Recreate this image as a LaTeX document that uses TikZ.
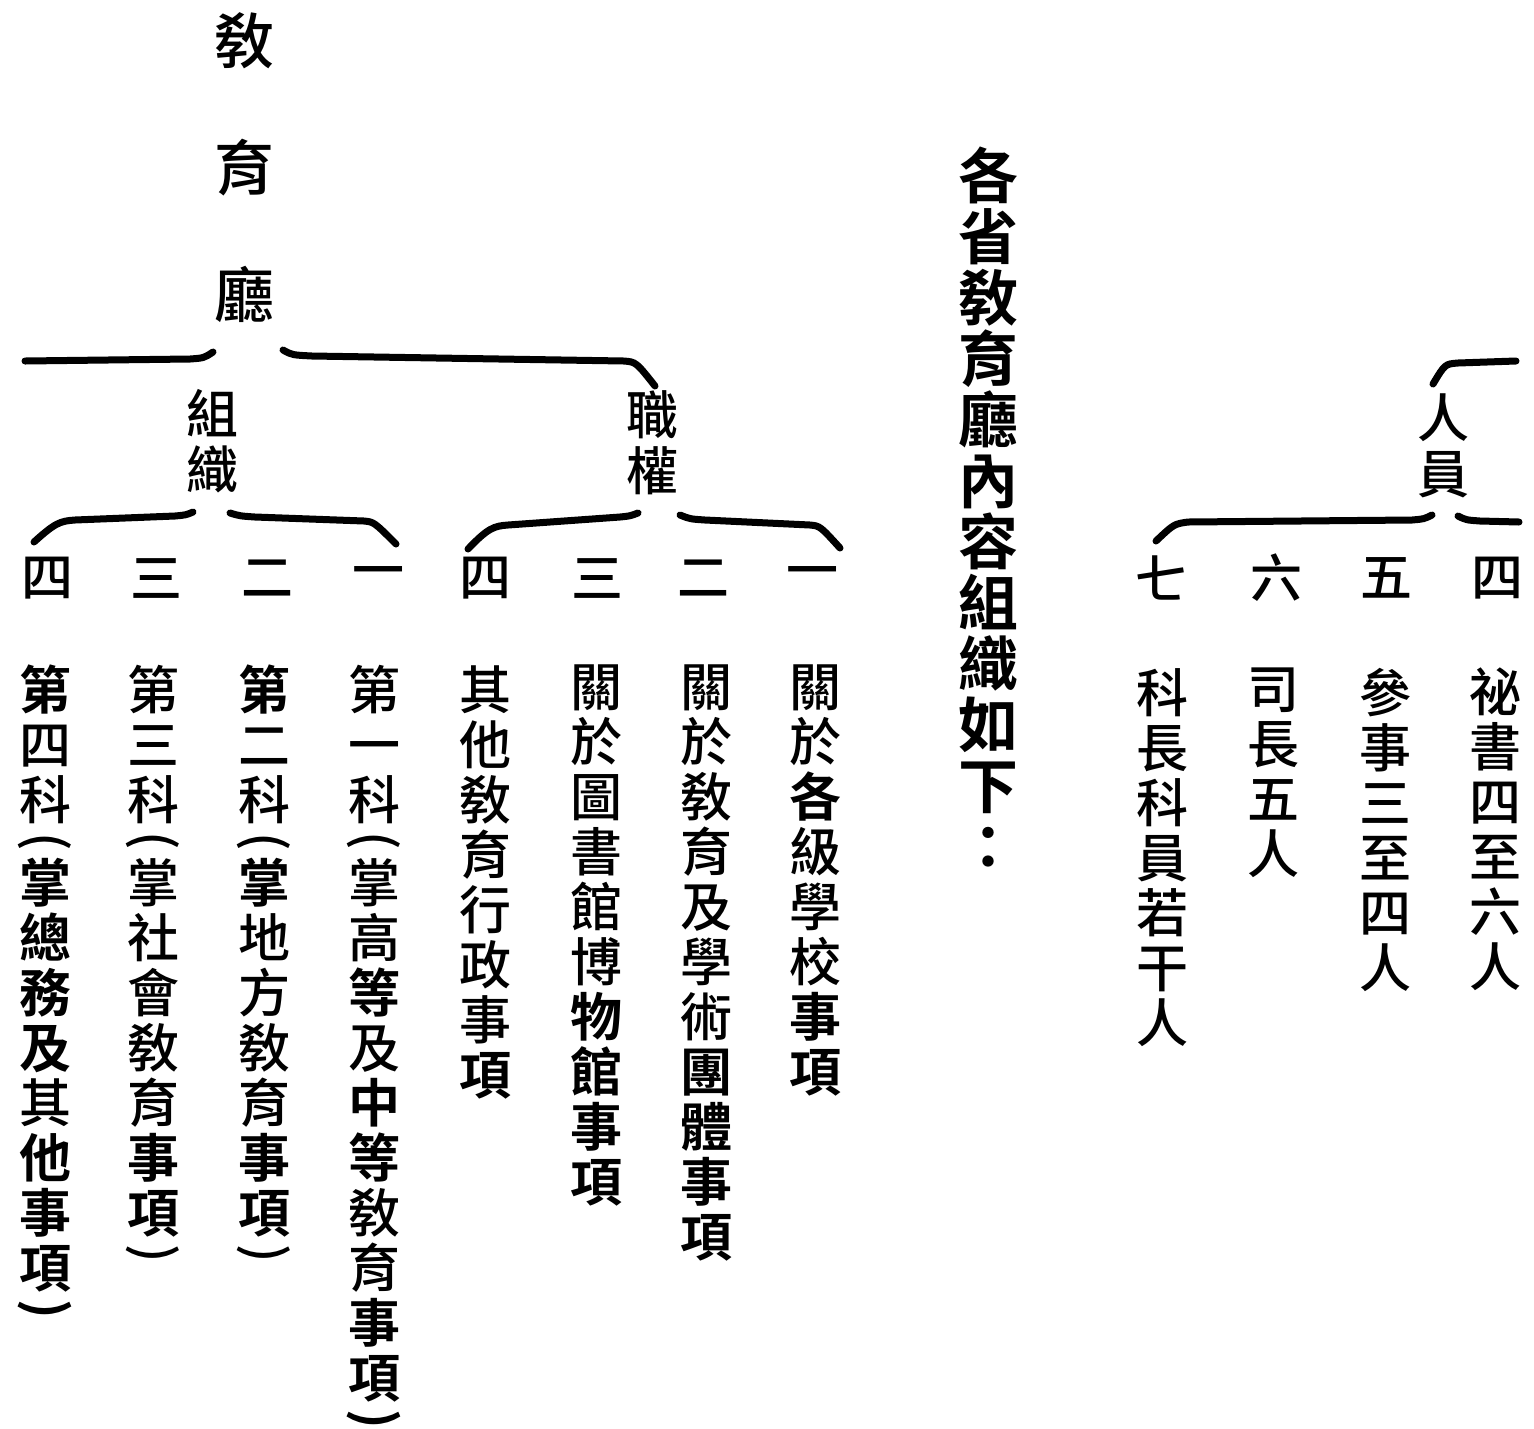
\documentclass[tikz,border=0pt]{standalone}
\usepackage{fontspec}
\usepackage{graphicx}
\setmainfont{Noto Sans CJK TC}[UprightFont=* Medium, BoldFont=* Bold]
\usetikzlibrary{positioning}

% parentheses turned for vertical writing
\newcommand\vlp{\raisebox{0.56em}{\rotatebox{-90}{(}}}
\newcommand\vrp{\raisebox{0.56em}{\rotatebox{-90}{)}}}

\begin{document}
\begin{tikzpicture}[
  x=1pt, y=-1pt,
  brace/.style={line width=7pt, line cap=round},
  zi/.style={inner sep=0pt, align=center, anchor=north,
    font=\fontsize{52}{55}\selectfont},
  num/.style={inner sep=0pt, font=\fontsize{52}{55}\selectfont},
  head/.style={inner sep=0pt, align=center, font=\fontsize{52}{56}\selectfont},
  big/.style={inner sep=0pt, align=center, font=\fontsize{60}{127}\selectfont},
  title/.style={inner sep=0pt, align=center, anchor=north,
    font=\fontsize{60}{61}\selectfont\bfseries}
]
  \useasboundingbox (0,0) rectangle (1534,1428);

  % heads
  \node[big] (root) at (244,168) {敎\\育\\廳};
  \node[head] (zuzhi) at (212,441) {組\\織};
  \node[head] (zhiquan) at (652,443) {職\\權};
  \node[head] (renyuan) at (1443,446) {人\\員};
  \node[title] (title) at (988,147) {各\\省\\敎\\育\\廳\\內\\容\\組\\織\\如\\下\\：};

  % numbers
  \node[num] (z4) at (47,578) {四};
  \node[num] (z3) at (156,578) {三};
  \node[num] (z2) at (267,578) {二};
  \node[num] (z1) at (378,578) {一};
  \node[num] (q4) at (485,578) {四};
  \node[num] (q3) at (597,578) {三};
  \node[num] (q2) at (703,578) {二};
  \node[num] (q1) at (812,578) {一};
  \node[num] (r7) at (1161,578) {七};
  \node[num] (r6) at (1276,578) {六};
  \node[num] (r5) at (1386,578) {五};
  \node[num] (r4) at (1497,578) {四};

  % columns under 組織
  \node[zi] (z4t) at (45,665) {\textbf{第}\\四\\科\\[-13.75pt]\vlp\\[-13.75pt]\textbf{掌}\\\textbf{總}\\\textbf{務}\\\textbf{及}\\其\\\textbf{他}\\\textbf{事}\\\textbf{項}\\[-13.75pt]\textbf{\vrp}};
  \node[zi] (z3t) at (153,665) {第\\三\\科\\[-13.75pt]\vlp\\[-13.75pt]掌\\社\\會\\敎\\育\\\textbf{事}\\\textbf{項}\\[-13.75pt]\vrp};
  \node[zi] (z2t) at (264,665) {\textbf{第}\\二\\科\\[-13.75pt]\vlp\\[-13.75pt]\textbf{掌}\\地\\方\\敎\\育\\\textbf{事}\\\textbf{項}\\[-13.75pt]\vrp};
  \node[zi] (z1t) at (374,665) {第\\一\\科\\[-13.75pt]\vlp\\[-13.75pt]掌\\高\\\textbf{等}\\及\\\textbf{中}\\\textbf{等}\\敎\\育\\\textbf{事}\\\textbf{項}\\[-13.75pt]\textbf{\vrp}};

  % columns under 職權
  \node[zi] (q4t) at (485,665) {其\\他\\敎\\育\\行\\政\\事\\\textbf{項}};
  \node[zi] (q3t) at (596,665) {關\\於\\圖\\書\\館\\博\\\textbf{物}\\\textbf{館}\\\textbf{事}\\\textbf{項}};
  \node[zi] (q2t) at (706,665) {關\\於\\敎\\育\\及\\學\\術\\\textbf{團}\\\textbf{體}\\\textbf{事}\\\textbf{項}};
  \node[zi] (q1t) at (815,665) {關\\於\\\textbf{各}\\級\\學\\校\\\textbf{事}\\\textbf{項}};

  % columns under 人員
  \node[zi] (r7t) at (1162,668) {科\\長\\科\\員\\若\\干\\人};
  \node[zi] (r6t) at (1273,668) {司\\長\\五\\人};
  \node[zi] (r5t) at (1385,668) {參\\事\\三\\至\\四\\人};
  \node[zi] (r4t) at (1495,668) {祕\\書\\四\\至\\六\\人};

  % brace below 敎育廳
  \coordinate (rootL) at (25,361);
  \coordinate (rootLt) at (213,352);
  \coordinate (rootRt) at (283,350);
  \coordinate (rootR) at (655,386);
  \draw[brace] (rootL) -- (190,359) .. controls (204,358) .. (rootLt);
  \draw[brace] (rootRt) .. controls (292,355) .. (312,356) -- (624,361) .. controls (636,362) .. (rootR);

  % brace below 組織
  \coordinate (zuzhiL) at (34,542);
  \coordinate (zuzhiLt) at (193,512);
  \coordinate (zuzhiRt) at (230,513);
  \coordinate (zuzhiR) at (396,544);
  \draw[brace] (zuzhiL) .. controls (55,523) and (60,521) .. (75,520) -- (175,516) .. controls (186,515) .. (zuzhiLt);
  \draw[brace] (zuzhiRt) .. controls (240,516) .. (255,517) -- (364,521) .. controls (374,522) .. (zuzhiR);

  % brace below 職權
  \coordinate (zhiquanL) at (468,549);
  \coordinate (zhiquanLt) at (638,513);
  \coordinate (zhiquanRt) at (680,515);
  \coordinate (zhiquanR) at (840,548);
  \draw[brace] (zhiquanL) .. controls (488,528) and (494,526) .. (508,525) -- (620,517) .. controls (630,516) .. (zhiquanLt);
  \draw[brace] (zhiquanRt) .. controls (690,519) .. (705,520) -- (810,525) .. controls (820,526) .. (zhiquanR);

  % braces round 人員
  \coordinate (renyuanT) at (1433,384);
  \coordinate (renyuanTr) at (1516,361);
  \coordinate (renyuanL) at (1156,541);
  \coordinate (renyuanLt) at (1432,515);
  \coordinate (renyuanRt) at (1458,516);
  \coordinate (renyuanR) at (1519,522);
  \draw[brace] (renyuanT) .. controls (1445,364) .. (1458,363) -- (renyuanTr);
  \draw[brace] (renyuanL) .. controls (1174,524) .. (1188,522) -- (1412,520) .. controls (1424,519) .. (renyuanLt);
  \draw[brace] (renyuanRt) .. controls (1466,520) .. (1480,521) -- (renyuanR);
\end{tikzpicture}
\end{document}
